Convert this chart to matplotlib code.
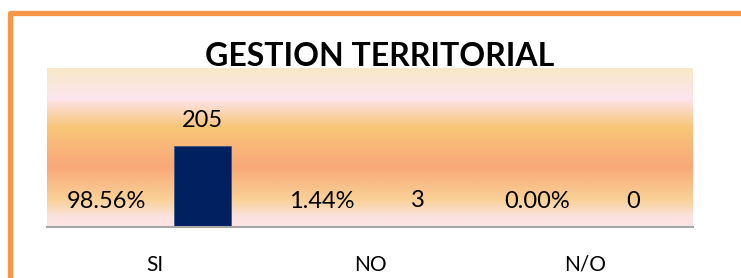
import numpy as np
import matplotlib
matplotlib.use('Agg')
from matplotlib import pyplot as plt
from matplotlib.colors import LinearSegmentedColormap
from matplotlib.patches import Rectangle

# data
categories = ['SI', 'NO', 'N/O']
percent = [0.9856, 0.0144, 0.0]
counts = [205, 3, 0]
title = 'GESTION TERRITORIAL'

plt.rcParams['font.family'] = ['Lato', 'DejaVu Sans']

fig = plt.figure(figsize=(7.41, 2.78), dpi=100)
fig.patch.set_facecolor('white')
ax = fig.add_axes([47/741, 1-227/278, (693-47)/741, (227-68)/278])

# background gradient (top -> bottom)
grad = LinearSegmentedColormap.from_list('bg', [
    (0.0, '#F9E8C8'), (0.19, '#FDE4EE'), (0.37, '#F8C679'),
    (0.62, '#F9A878'), (0.83, '#F9D197'), (0.94, '#FCE3E1'), (1.0, '#FCE4E4')])
ax.imshow(np.linspace(0, 1, 256).reshape(-1, 1), aspect='auto', cmap=grad,
          extent=[-0.5, 2.5, 0, 400], origin='upper', zorder=0)

x = np.arange(len(categories))
off = 0.222
w = 0.265
ax.bar(x - off, percent, w, color='none', zorder=2)
ax.bar(x + off, counts, w, color='#002060', edgecolor='#41557F', linewidth=0.6, zorder=2)

for xi, p, c in zip(x, percent, counts):
    ax.annotate('%.2f%%' % (p * 100), (xi - off, p), xytext=(0, 18),
                textcoords='offset points', ha='center', va='center', fontsize=17)
    ax.annotate('%d' % c, (xi + off, c), xytext=(0, 18),
                textcoords='offset points', ha='center', va='center', fontsize=17)

ax.set_xlim(-0.5, 2.5)
ax.set_ylim(0, 400)
ax.set_xticks(x)
ax.set_xticklabels(categories, fontsize=15)
ax.tick_params(axis='x', length=0, pad=20)
ax.set_yticks([])
for s in ['top', 'left', 'right']:
    ax.spines[s].set_visible(False)
ax.spines['bottom'].set_color('#A6A6A6')
ax.spines['bottom'].set_linewidth(1.5)
ax.spines['bottom'].set_zorder(3)

fig.text(380/741, 1-56/278, title, ha='center', va='center',
         fontsize=23, fontweight='bold', color='black')

# orange chart border (cropped at right/bottom)
fig.patches.append(Rectangle((10/741, -0.2), 1.2, 1.2 - 12.5/278,
                             transform=fig.transFigure, fill=False,
                             edgecolor='#F79646', linewidth=3.8,
                             joinstyle='round', zorder=5))

fig.savefig('out.png', dpi=100)
